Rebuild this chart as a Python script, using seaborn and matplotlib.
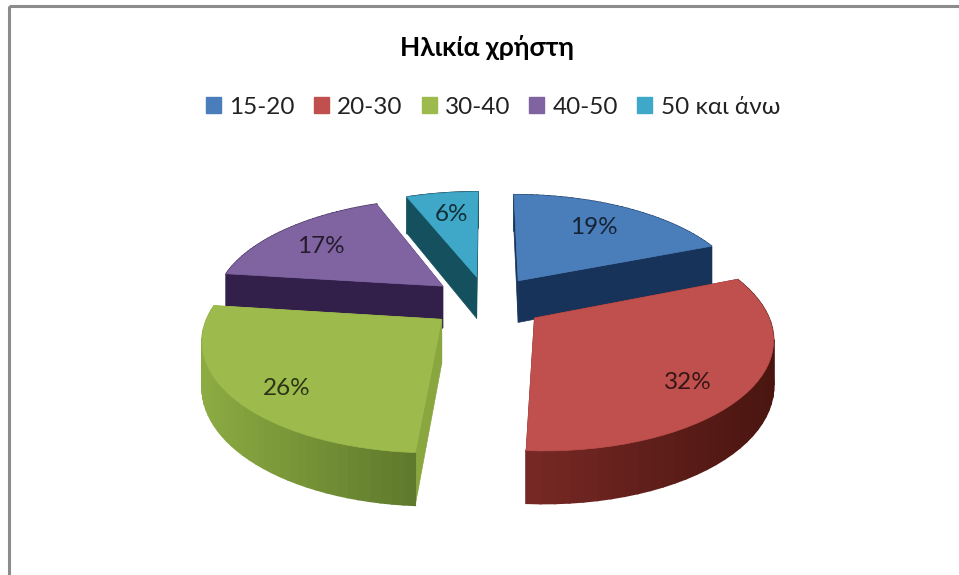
import numpy as np
import seaborn as sns
import matplotlib
matplotlib.use("Agg")
import matplotlib.pyplot as plt
from matplotlib.patches import Patch, Polygon, Rectangle

# values of the slices (clockwise from 12 o'clock)
age_groups = ["15-20", "20-30", "30-40", "40-50", "50 και άνω"]
shares = [19, 32, 26, 17, 6]
top_colors = ["#4a7ebb", "#c0504d", "#9dba4c", "#8064a2", "#3fa8c8"]
cut_colors = ["#17335a", "#5a1a16", "#8aa63f", "#33204a", "#15505f"]
side_left = ["#17335a", "#7a2a26", "#8cab42", "#33204a", "#15505f"]
side_right = ["#17335a", "#4a1510", "#5f7a2c", "#33204a", "#15505f"]
draw_order = [4, 0, 3, 1, 2]

sns.set_theme(style="white")
plt.rcParams["font.family"] = ["Lato", "Noto Sans", "DejaVu Sans"]

# perspective of the fake 3D pie, in pixels
CX, CY = 487, 302
AX_X, AX_Y = 229, 106
PERSP = 0.16
EXPLODE = 0.25
DEPTH = 43


def project(X, Y):
    s = 1 / (1 + PERSP * Y)
    return CX + AX_X * X * s, CY - AX_Y * Y * s, DEPTH * s


def slice_point(theta, mid, rho=1.0):
    X = rho * np.sin(theta) + EXPLODE * np.sin(mid)
    Y = rho * np.cos(theta) + EXPLODE * np.cos(mid)
    return project(X, Y)


def shade(c1, c2, t):
    a = np.array(matplotlib.colors.to_rgb(c1))
    b = np.array(matplotlib.colors.to_rgb(c2))
    return tuple(a + (b - a) * t)


fig = plt.figure(figsize=(9.59, 5.75), dpi=100)
ax = fig.add_axes([0, 0, 1, 1])
ax.set_xlim(0, 959)
ax.set_ylim(575, 0)
ax.axis("off")

# chart frame, cut by the picture on the right and at the bottom
ax.add_patch(Rectangle((9, 6), 980, 600, fill=False, ec="#8c8c8c", lw=2.2))

edges = np.cumsum([0] + shares) / sum(shares) * 2 * np.pi

for i in draw_order:
    start, end = edges[i], edges[i + 1]
    mid = (start + end) / 2
    thetas = np.linspace(start, end, 40)
    ax0, ay0, ah0 = slice_point(0, mid, 0)

    # cut faces
    for th in (start, end):
        x1, y1, h1 = slice_point(th, mid)
        ax.add_patch(Polygon([(ax0, ay0), (x1, y1), (x1, y1 + h1), (ax0, ay0 + ah0)],
                             fc=cut_colors[i], ec=cut_colors[i], lw=0.5))

    # outer wall, small quads so the shading runs along the arc
    for k in range(len(thetas) - 1):
        x1, y1, h1 = slice_point(thetas[k], mid)
        x2, y2, h2 = slice_point(thetas[k + 1], mid)
        if i == 2:
            t = (x1 - 205) / 210
        else:
            t = (x1 - 520) / 255
        col = shade(side_left[i], side_right[i], np.clip(t, 0, 1))
        ax.add_patch(Polygon([(x1, y1), (x2, y2), (x2, y2 + h2), (x1, y1 + h1)],
                             fc=col, ec=col, lw=1.2))

    # top surface
    rim = [slice_point(th, mid)[:2] for th in thetas]
    ax.add_patch(Polygon([(ax0, ay0)] + rim, fc=top_colors[i], ec=top_colors[i], lw=0.5))

    lx, ly, _ = slice_point(mid, mid, 0.78)
    lx += -10 if np.sin(mid) > 0 else 3
    ly += 5 if np.cos(mid) > 0 else 9
    ax.text(lx, ly, f"{shares[i]}%", ha="center", va="center", fontsize=17.5,
            color=shade(top_colors[i], "#000000", 0.72))

ax.text(487, 48, "Ηλικία χρήστη", ha="center", va="center", fontsize=19,
        fontweight="bold", color="black")

handles = [Patch(fc=c, ec=c) for c in top_colors]
ax.legend(handles, age_groups, ncol=5, loc="center", bbox_to_anchor=(493 / 959, 1 - 107 / 575),
          frameon=False, fontsize=17.5, handlelength=0.62, handleheight=0.62,
          handletextpad=0.35, columnspacing=0.77, labelcolor="#222222")

fig.savefig("out.png", dpi=100)
